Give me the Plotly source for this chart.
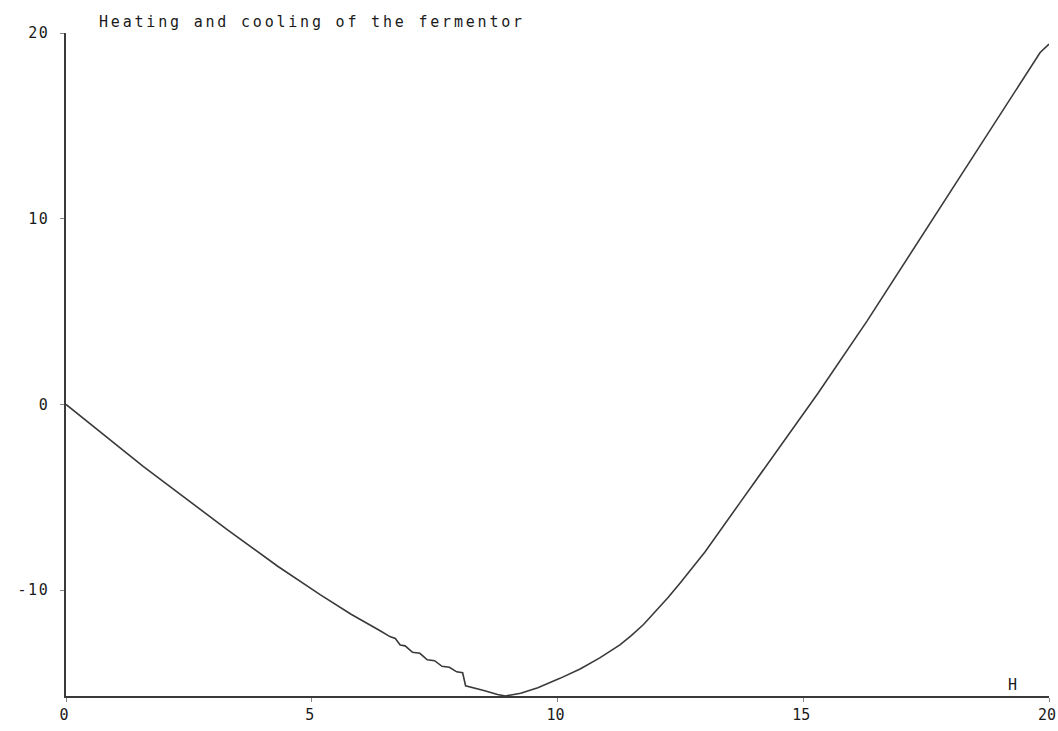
import plotly.graph_objects as go

# Fermentor temperature over time (hours)
hours = [0, 1.57, 3.28, 4.3, 5.17, 5.8, 6.4, 6.59, 6.7, 6.8, 6.9, 7.05, 7.2,
         7.35, 7.5, 7.65, 7.8, 7.95, 8.07, 8.13, 8.5, 8.78, 8.94, 9.25, 9.6,
         10.05, 10.46, 10.86, 11.27, 11.5, 11.75, 12.0, 12.25, 12.5, 12.75,
         13.0, 13.71, 14.67, 15.3, 16.3, 17.64, 19.0, 19.82, 20.0]
temperature = [0, -3.34, -6.74, -8.7, -10.24, -11.3, -12.2, -12.5, -12.6,
               -12.95, -13.0, -13.35, -13.4, -13.75, -13.8, -14.1, -14.15,
               -14.4, -14.45, -15.15, -15.4, -15.62, -15.7, -15.55, -15.25,
               -14.75, -14.25, -13.65, -12.95, -12.45, -11.85, -11.15, -10.4,
               -9.6, -8.8, -7.95, -5.3, -1.75, 0.6, 4.5, 10.0, 15.6, 18.95,
               19.4]

y_ticks = [20, 10, 0, -10]
y_labels = ["20", "10", "0", "-10"]
x_ticks = [0, 5, 10, 15, 20]
x_labels = ["0", "5", "10", "15", "20"]

title_text = "Heating and cooling of the fermentor"

FONT = dict(family="DejaVu Sans Mono", size=15, color="#1a1a1a")
INK = "#3a3a3a"


def spaced(s, px=2.8):
    return f'<span style="letter-spacing:{px}px">{s}</span>'


fig = go.Figure()
fig.add_trace(go.Scatter(
    x=hours, y=temperature, mode="lines",
    line=dict(color=INK, width=1.6), showlegend=False, hoverinfo="skip",
))

fig.add_annotation(
    xref="paper", yref="paper", x=0.0315, y=1.0166,
    xanchor="left", yanchor="middle", showarrow=False,
    text=spaced(title_text), font=FONT,
)
fig.add_annotation(
    xref="x", yref="y", x=19.25, y=-15.1,
    xanchor="center", yanchor="middle", showarrow=False,
    text="H", font=FONT,
)

fig.update_xaxes(
    range=[0, 20], showgrid=False, zeroline=False,
    showline=True, linecolor=INK, linewidth=1.6,
    tickmode="array", tickvals=x_ticks, ticktext=x_labels,
    ticks="outside", ticklen=4, tickcolor="#888", tickwidth=1,
    tickfont=FONT, ticklabeloverflow="allow", ticklabelshift=-2,
    automargin=False,
)
fig.update_yaxes(
    range=[-15.7, 20], showgrid=False, zeroline=False,
    showline=True, linecolor=INK, linewidth=1.6,
    tickmode="array", tickvals=y_ticks,
    ticktext=[spaced(t, 1.5) for t in y_labels],
    ticks="outside", ticklen=4, tickcolor="#888", tickwidth=1,
    tickfont=FONT, ticklabelstandoff=8, ticklabeloverflow="allow",
    automargin=False,
)

fig.update_layout(
    width=1058, height=731,
    margin=dict(l=66, r=9, t=33, b=35),
    paper_bgcolor="white", plot_bgcolor="white",
)

fig.write_html("out.html")
